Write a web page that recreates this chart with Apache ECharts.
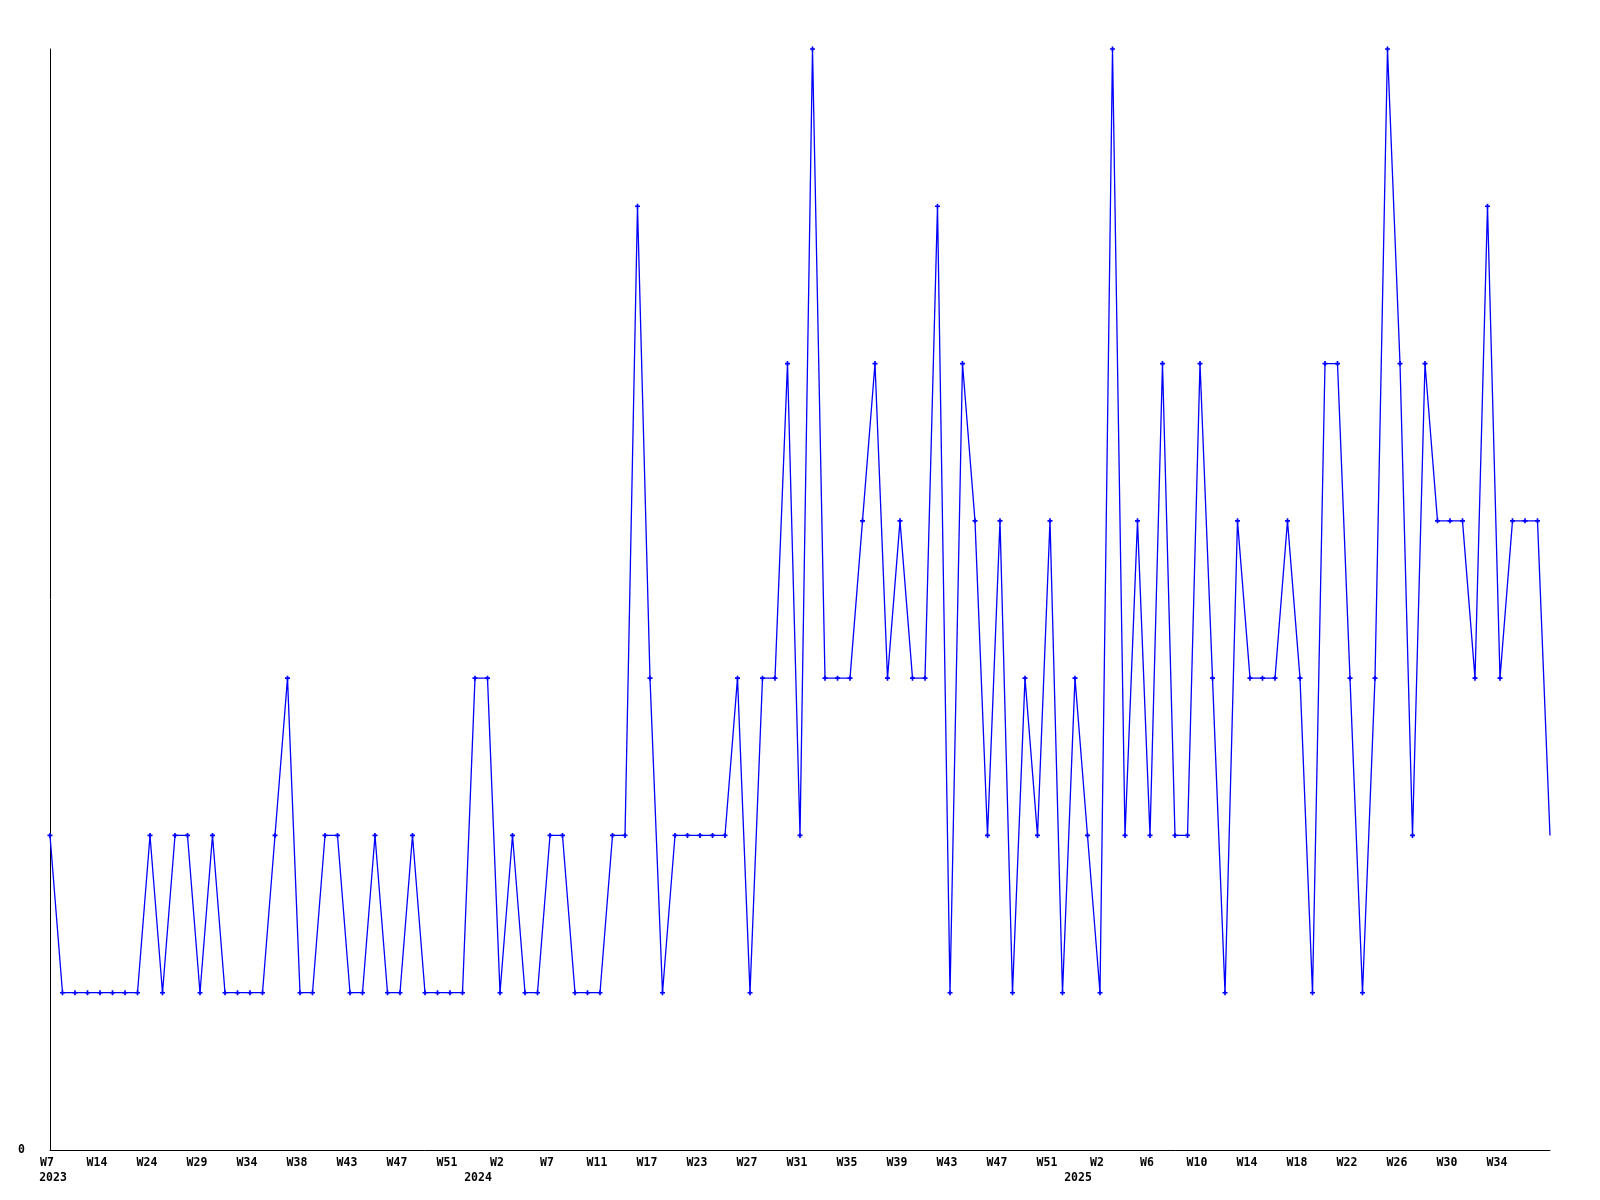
<!DOCTYPE html>
<html>
<head>
<meta charset="utf-8">
<script src="https://cdn.jsdelivr.net/npm/echarts@6/dist/echarts.min.js"></script>
<style>
html,body{margin:0;padding:0;background:#fff;}
#chart{width:1600px;height:1200px;}
</style>
</head>
<body>
<div id="chart"></div>
<script>
// categories (year-week); only every 4th week is labelled in the chart
const categories = [
  "2023-W7","2023-W8","2023-W10","2023-W12","2023-W14","2023-W16","2023-W19","2023-W21",
  "2023-W24","2023-W25","2023-W26","2023-W28","2023-W29","2023-W30","2023-W32","2023-W33",
  "2023-W34","2023-W35","2023-W36","2023-W37","2023-W38","2023-W39","2023-W41","2023-W42",
  "2023-W43","2023-W44","2023-W45","2023-W46","2023-W47","2023-W48","2023-W49","2023-W50",
  "2023-W51","2023-W52",
  "2024-W1","2024-W1","2024-W2","2024-W3","2024-W5","2024-W6","2024-W7","2024-W8",
  "2024-W9","2024-W10","2024-W11","2024-W13","2024-W14","2024-W16","2024-W17","2024-W19",
  "2024-W20","2024-W21","2024-W23","2024-W24","2024-W25","2024-W26","2024-W27","2024-W28",
  "2024-W29","2024-W30","2024-W31","2024-W32","2024-W33","2024-W34","2024-W35","2024-W36",
  "2024-W37","2024-W38","2024-W39","2024-W40","2024-W41","2024-W42","2024-W43","2024-W44",
  "2024-W45","2024-W46","2024-W47","2024-W48","2024-W49","2024-W50","2024-W51","2024-W52",
  "2025-W1","2025-W1","2025-W2","2025-W3","2025-W4","2025-W5","2025-W6","2025-W7",
  "2025-W8","2025-W9","2025-W10","2025-W11","2025-W12","2025-W13","2025-W14","2025-W15",
  "2025-W16","2025-W17","2025-W18","2025-W19","2025-W20","2025-W21","2025-W22","2025-W23",
  "2025-W24","2025-W25","2025-W26","2025-W27","2025-W28","2025-W29","2025-W30","2025-W31",
  "2025-W32","2025-W33","2025-W34","2025-W35","2025-W36","2025-W37","2025-W38"
];

const values = [
  2,1,1,1,1,1,1,1, 2,1,2,2,1,2,1,1,
  1,1,2,3,1,1,2,2, 1,1,2,1,1,2,1,1,
  1,1,3,3,1,2,1,1, 2,2,1,1,1,2,2,6,
  3,1,2,2,2,2,2,3, 1,3,3,5,2,7,3,3,
  3,4,5,3,4,3,3,6, 1,5,4,2,4,1,3,2,
  4,1,3,2,1,7,2,4, 2,5,2,2,5,3,1,4,
  3,3,3,4,3,1,5,5, 3,1,3,7,5,2,5,4,
  4,4,3,6,3,4,4,4, 2
];

const yTickLabels = ["0"];
const weekLabelEvery = 4;

const FONT = "DejaVu Sans Mono";

const yearOf = c => c.split("-")[0];
const weekOf = c => c.split("-")[1];
const yearStart = categories.map((c, i) => i === 0 || yearOf(c) !== yearOf(categories[i - 1]));
const lastIdx = categories.length - 1;

const seriesData = values.map((v, i) =>
  i === values.length - 1 ? { value: v, symbol: "none" } : v
);

const chart = echarts.init(document.getElementById("chart"), null, { renderer: "canvas" });
chart.setOption({
  animation: false,
  backgroundColor: "#ffffff",
  grid: { left: 50, right: 50, top: 49, bottom: 50, containLabel: false },
  xAxis: [
    {
      type: "category",
      data: categories,
      boundaryGap: false,
      axisLine: { show: true, lineStyle: { color: "#000", width: 1 } },
      axisTick: { show: false },
      splitLine: { show: false },
      axisLabel: {
        interval: (i) => i % weekLabelEvery === 0 && i !== lastIdx,
        formatter: (c) => weekOf(c),
        fontFamily: FONT,
        fontWeight: "bold",
        fontSize: 11.5,
        color: "#000",
        margin: 7,
        padding: [0, 6, 0, 0]
      }
    },
    {
      type: "category",
      data: categories,
      boundaryGap: false,
      position: "bottom",
      offset: 15.5,
      axisLine: { show: false },
      axisTick: { show: false },
      splitLine: { show: false },
      axisLabel: {
        interval: (i) => yearStart[i],
        formatter: (c) => yearOf(c),
        fontFamily: FONT,
        fontWeight: "bold",
        fontSize: 11.5,
        color: "#000",
        margin: 7,
        padding: [0, 0, 0, 6]
      }
    }
  ],
  yAxis: {
    type: "value",
    min: 0,
    max: 7,
    interval: 1,
    axisLine: { show: true, lineStyle: { color: "#000", width: 1 } },
    axisTick: { show: false },
    splitLine: { show: false },
    axisLabel: {
      formatter: (v) => (v === 0 ? yTickLabels[0] : ""),
      fontFamily: FONT,
      fontWeight: "bold",
      fontSize: 11.5,
      color: "#000",
      margin: 25,
      padding: [7, 0, 0, 0]
    }
  },
  series: [
    {
      type: "line",
      xAxisIndex: 0,
      data: seriesData,
      symbol: "path://M2,0H4V2H6V4H4V6H2V4H0V2H2Z",
      symbolSize: 5,
      showAllSymbol: true,
      lineStyle: { color: "#0000ff", width: 1.3 },
      itemStyle: { color: "#0000ff", borderWidth: 0 },
      emphasis: { disabled: true }
    }
  ]
});
</script>
</body>
</html>
